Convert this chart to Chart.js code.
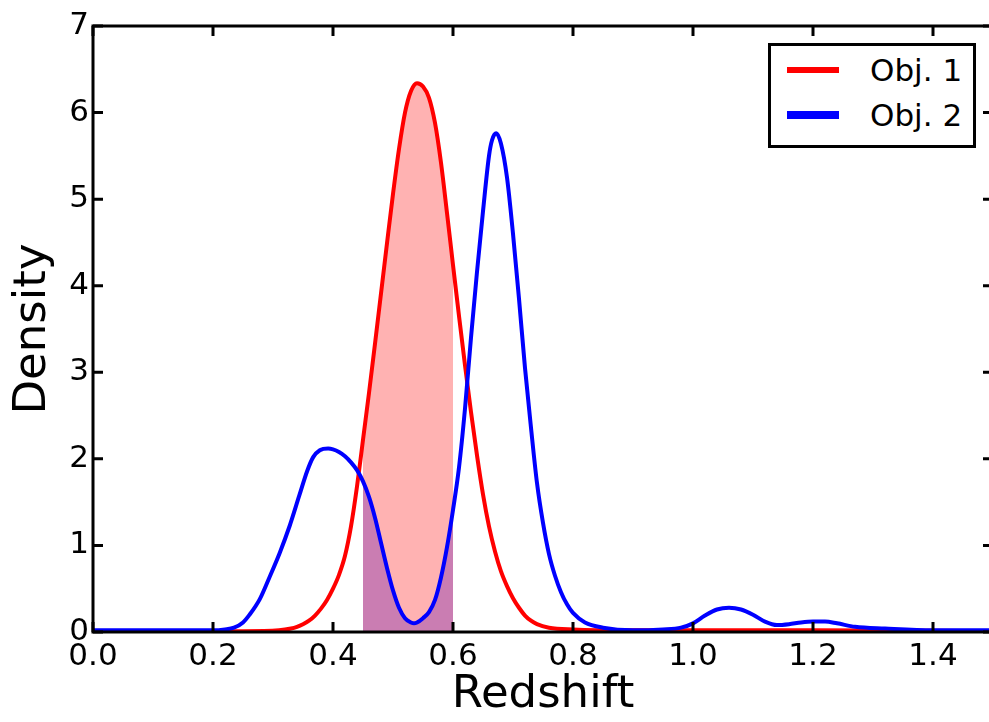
<!DOCTYPE html>
<html><head><meta charset="utf-8">
<script src="https://cdn.jsdelivr.net/npm/chart.js@4.4.0/dist/chart.umd.min.js"></script>
<style>
html,body{margin:0;padding:0;background:#fff;overflow:hidden;width:989px;height:722px;}
#wrap{position:relative;width:1000px;height:722px;}
canvas{display:block;}
#legend{position:absolute;left:768px;top:43px;width:208px;height:105px;border:3px solid #000;box-sizing:border-box;background:#fff;font-family:"DejaVu Sans";font-size:31px;color:#000;}
.item{position:absolute;left:0;height:40px;width:100%;}
.sw{position:absolute;left:16px;width:52px;}
.lb{position:absolute;left:99px;top:0;line-height:40px;white-space:nowrap;}
</style></head>
<body><div id="wrap"><canvas id="c" width="1000" height="722"></canvas><div id="legend"></div></div>
<script>
// ---- data ----
const seriesNames = ['Obj. 1', 'Obj. 2'];
const seriesColors = ['#ff0000', '#0000ff'];

const obj1Z = [0.00, 0.20, 0.25, 0.31, 0.33, 0.34, 0.35, 0.36, 0.37, 0.38, 0.39, 0.40, 0.41, 0.42, 0.43, 0.44, 0.45, 0.46, 0.47, 0.48, 0.49, 0.50, 0.51, 0.52, 0.53, 0.54, 0.55, 0.56, 0.57, 0.58, 0.59, 0.60, 0.61, 0.62, 0.63, 0.64, 0.65, 0.66, 0.67, 0.68, 0.69, 0.70, 0.71, 0.72, 0.73, 0.74, 0.76, 0.80, 0.90, 1.00, 1.20, 1.50];
const obj1Density = [0.01, 0.01, 0.01, 0.02, 0.04, 0.06, 0.09, 0.13, 0.19, 0.27, 0.37, 0.50, 0.66, 0.88, 1.22, 1.68, 2.22, 2.76, 3.33, 3.91, 4.49, 5.06, 5.58, 6.00, 6.25, 6.34, 6.30, 6.17, 5.88, 5.42, 4.84, 4.24, 3.65, 3.08, 2.54, 2.04, 1.59, 1.22, 0.93, 0.70, 0.53, 0.39, 0.28, 0.19, 0.13, 0.09, 0.05, 0.03, 0.02, 0.02, 0.02, 0.01];

const obj2Z = [0.00, 0.20, 0.22, 0.235, 0.25, 0.261, 0.278, 0.294, 0.311, 0.328, 0.344, 0.357, 0.367, 0.378, 0.392, 0.40, 0.41, 0.42, 0.43, 0.44, 0.45, 0.46, 0.47, 0.48, 0.49, 0.50, 0.51, 0.52, 0.53, 0.535, 0.54, 0.55, 0.56, 0.57, 0.58, 0.59, 0.60, 0.61, 0.62, 0.63, 0.64, 0.65, 0.66, 0.665, 0.672, 0.68, 0.69, 0.70, 0.71, 0.72, 0.73, 0.74, 0.75, 0.76, 0.77, 0.78, 0.79, 0.80, 0.82, 0.85, 0.90, 0.95, 0.98, 1.00, 1.02, 1.04, 1.06, 1.08, 1.10, 1.12, 1.14, 1.16, 1.18, 1.20, 1.22, 1.24, 1.27, 1.32, 1.40, 1.50];
const obj2Density = [0.02, 0.02, 0.03, 0.05, 0.11, 0.20, 0.38, 0.63, 0.91, 1.23, 1.58, 1.86, 2.02, 2.10, 2.12, 2.11, 2.08, 2.03, 1.96, 1.87, 1.74, 1.56, 1.32, 1.03, 0.74, 0.48, 0.28, 0.16, 0.11, 0.10, 0.11, 0.16, 0.23, 0.37, 0.63, 0.98, 1.41, 1.90, 2.58, 3.40, 4.16, 4.86, 5.50, 5.68, 5.76, 5.64, 5.25, 4.60, 3.85, 3.05, 2.36, 1.72, 1.26, 0.90, 0.65, 0.46, 0.32, 0.22, 0.11, 0.05, 0.02, 0.03, 0.05, 0.10, 0.19, 0.26, 0.28, 0.26, 0.20, 0.12, 0.08, 0.09, 0.11, 0.12, 0.12, 0.10, 0.06, 0.04, 0.02, 0.02];

const shadeRange = [0.45, 0.60];

const xTickValues = [0.0, 0.2, 0.4, 0.6, 0.8, 1.0, 1.2, 1.4];
const xTickLabels = ['0.0', '0.2', '0.4', '0.6', '0.8', '1.0', '1.2', '1.4'];
const yTickValues = [0, 1, 2, 3, 4, 5, 6, 7];
const yTickLabels = ['0', '1', '2', '3', '4', '5', '6', '7'];
const xTitle = 'Redshift';
const yTitle = 'Density';

// ---- build ----
const pts = (xs, ys) => xs.map((x, i) => ({x: x, y: ys[i]}));
const shaded = (xs, ys) => pts(xs, ys).filter(p => p.x >= shadeRange[0] - 1e-9 && p.x <= shadeRange[1] + 1e-9);

const FONT = '"DejaVu Sans", sans-serif';
Chart.defaults.font.family = FONT;
Chart.defaults.color = '#000';

const labelFor = (vals, labels) => (v) => {
  const i = vals.findIndex(t => Math.abs(t - v) < 1e-6);
  return i >= 0 ? labels[i] : '';
};

const frame = {
  id: 'frame',
  afterDraw(chart) {
    const {ctx, chartArea: {left, right, top, bottom}, scales: {x, y}} = chart;
    ctx.save();
    ctx.strokeStyle = '#000';
    ctx.lineWidth = 3;
    ctx.strokeRect(left, top, right - left, bottom - top);
    ctx.beginPath();
    const L = 10;
    xTickValues.forEach(v => {
      const px = x.getPixelForValue(v);
      ctx.moveTo(px, bottom); ctx.lineTo(px, bottom - L);
      ctx.moveTo(px, top); ctx.lineTo(px, top + L);
    });
    yTickValues.forEach(v => {
      const py = y.getPixelForValue(v);
      ctx.moveTo(left, py); ctx.lineTo(left + L, py);
      ctx.moveTo(right, py); ctx.lineTo(right - L, py);
    });
    ctx.stroke();
    ctx.restore();
  }
};

const lineDs = (label, xs, ys, color, order) => ({
  label, data: pts(xs, ys), borderColor: color, borderWidth: 4, pointRadius: 0,
  fill: false, cubicInterpolationMode: 'monotone', order
});
const fillDs = (label, xs, ys, rgba, order) => ({
  label, data: shaded(xs, ys), borderWidth: 0, borderColor: 'rgba(0,0,0,0)', backgroundColor: rgba,
  pointRadius: 0, fill: 'origin', cubicInterpolationMode: 'monotone', order
});

new Chart(document.getElementById('c'), {
  type: 'line',
  data: {
    datasets: [
      lineDs(seriesNames[1], obj2Z, obj2Density, seriesColors[1], 0),
      lineDs(seriesNames[0], obj1Z, obj1Density, seriesColors[0], 1),
      fillDs(seriesNames[0] + ' shade', obj1Z, obj1Density, 'rgba(255,0,0,0.3)', 2),
      fillDs(seriesNames[1] + ' shade', obj2Z, obj2Density, 'rgba(0,0,255,0.3)', 3)
    ]
  },
  options: {
    responsive: false,
    animation: false,
    layout: {padding: {top: 26, right: 7, left: 0, bottom: 0}},
    plugins: {legend: {display: false}, tooltip: {enabled: false}},
    scales: {
      x: {
        type: 'linear', min: 0, max: 1.5,
        grid: {display: false, drawTicks: false}, border: {display: false},
        afterBuildTicks: (s) => { s.ticks = xTickValues.map(v => ({value: v})); },
        ticks: {autoSkip: false, maxRotation: 0, padding: 6,
                font: {size: 31}, color: '#000', callback: labelFor(xTickValues, xTickLabels)},
        title: {display: true, text: xTitle, font: {size: 45}, color: '#000', padding: {top: 0, bottom: 0}},
        afterFit: (s) => { s.height = 90; }
      },
      y: {
        type: 'linear', min: 0, max: 7,
        grid: {display: false, drawTicks: false}, border: {display: false},
        afterBuildTicks: (s) => { s.ticks = yTickValues.map(v => ({value: v})); },
        ticks: {padding: 4, font: {size: 31}, color: '#000', callback: labelFor(yTickValues, yTickLabels)},
        title: {display: true, text: yTitle, font: {size: 45}, color: '#000', padding: {top: 6, bottom: 0}},
        afterFit: (s) => { s.width = 93; }
      }
    }
  },
  plugins: [frame]
});

// HTML legend built from the series names/colours
const leg = document.getElementById('legend');
const thick = [6, 8];
seriesNames.forEach((n, i) => {
  const it = document.createElement('div');
  it.className = 'item';
  it.style.top = (4 + 45 * i) + 'px';
  const sw = document.createElement('div');
  sw.className = 'sw';
  sw.style.background = seriesColors[i];
  sw.style.height = thick[i] + 'px';
  sw.style.top = (20 - thick[i] / 2) + 'px';
  const lb = document.createElement('div');
  lb.className = 'lb';
  lb.textContent = n;
  it.appendChild(sw); it.appendChild(lb);
  leg.appendChild(it);
});
</script>
</body></html>
